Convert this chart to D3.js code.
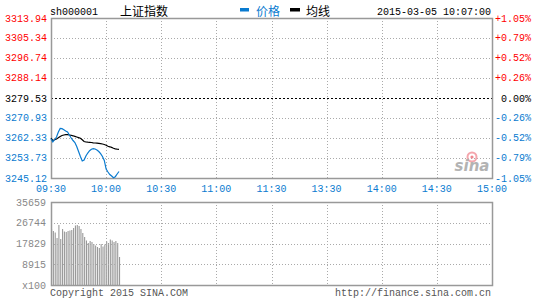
<!DOCTYPE html>
<html>
<head>
<meta charset="utf-8">
<script src="https://cdn.jsdelivr.net/npm/d3@7"></script>
<style>
  body { margin: 0; background: #fff; }
  svg { display: block; }
  text { font-family: "Liberation Mono", "DejaVu Sans Mono", monospace; font-size: 10px; }
  .cjk { font-family: "Noto Sans CJK SC", sans-serif; font-size: 12px; }
</style>
</head>
<body>
<div id="chart"></div>
<script>
// price axis ticks (left) and percent ticks (right)
const priceTicks = [3313.94, 3305.34, 3296.74, 3288.14, 3279.53, 3270.93, 3262.33, 3253.73, 3245.12];
const pctLabels = ['+1.05%', '+0.79%', '+0.52%', '+0.26%', '0.00%', '-0.26%', '-0.52%', '-0.79%', '-1.05%'];
const prevClose = 3279.53;

// time axis, minutes since 09:30 (lunch break removed)
const timeTicks = [0, 30, 60, 90, 120, 150, 180, 210, 240];
const timeLabels = ['09:30', '10:00', '10:30', '11:00', '11:30', '13:30', '14:00', '14:30', '15:00'];

// volume axis (x100)
const volTicks = [35659, 26744, 17829, 8915, 0];
const volLabels = ['35659', '26744', '17829', '8915', 'x100'];

// minute data 09:30 - 10:07
const price = [3262.02, 3260.61, 3261.68, 3262.76, 3264.91, 3266.41, 3266.33, 3265.85, 3265.34, 3264.91,
  3263.62, 3262.33, 3261.25, 3260.39, 3258.67, 3256.52, 3254.37, 3252.43, 3252.86, 3254.58,
  3255.87, 3256.86, 3257.47, 3257.72, 3257.59, 3257.16, 3256.52, 3255.57, 3254.37, 3252.65,
  3248.99, 3247.70, 3246.63, 3245.98, 3245.21, 3245.68, 3246.84, 3247.92];
const avgPrice = [3262.33, 3261.25, 3261.55, 3261.90, 3262.41, 3262.97, 3263.40, 3263.62, 3263.75, 3263.75,
  3263.62, 3263.49, 3263.27, 3263.01, 3262.76, 3262.50, 3262.20, 3261.59, 3260.82, 3260.61,
  3260.52, 3260.48, 3260.39, 3260.26, 3260.18, 3260.09, 3260.00, 3259.92, 3259.75, 3259.53,
  3259.23, 3258.76, 3258.54, 3258.28, 3257.94, 3257.68, 3257.55, 3257.47];
const volume = [24060, 23200, 22550, 20190, 25780, 19760, 24060, 22980, 22770, 23200,
  23410, 23630, 24490, 25560, 25780, 25350, 24060, 22340, 20620, 19120,
  18040, 18900, 18470, 17610, 16970, 16320, 15900, 17610, 16540, 17400,
  18690, 18040, 19550, 19120, 18470, 18900, 18040, 12030];

const W = 545, H = 300;
const left = 51, right = 492;
const pTop = 18, pBottom = 178;
const vTop = 202, vBottom = 285;

const blue = '#0a7bd0', red = '#ff0000', gridC = '#aaaaaa', borderC = '#999999';

const svg = d3.select('#chart').append('svg').attr('width', W).attr('height', H);

const x = d3.scaleLinear().domain([0, 240]).range([left, right]);
const y = d3.scaleLinear().domain([priceTicks[8], priceTicks[0]]).range([pBottom, pTop]);
const yv = d3.scaleLinear().domain([0, volTicks[0]]).range([vBottom, vTop]);

// ---- price panel grid
svg.append('g').selectAll('line')
  .data(priceTicks.filter(d => d !== prevClose))
  .enter().append('line')
  .attr('x1', left).attr('x2', right)
  .attr('y1', d => Math.round(y(d)) + 0.5).attr('y2', d => Math.round(y(d)) + 0.5)
  .attr('stroke', gridC).attr('stroke-dasharray', '1,2');

svg.append('g').selectAll('line')
  .data(timeTicks.slice(1, -1))
  .enter().append('line')
  .attr('x1', d => Math.round(x(d)) + 0.5).attr('x2', d => Math.round(x(d)) + 0.5)
  .attr('y1', pTop).attr('y2', pBottom)
  .attr('stroke', gridC).attr('stroke-dasharray', '1,2');

svg.append('line')
  .attr('x1', left).attr('x2', right)
  .attr('y1', Math.round(y(prevClose)) + 0.5).attr('y2', Math.round(y(prevClose)) + 0.5)
  .attr('stroke', '#000').attr('stroke-dasharray', '2,2');

svg.append('rect')
  .attr('x', left + 0.5).attr('y', pTop + 0.5)
  .attr('width', right - left).attr('height', pBottom - pTop)
  .attr('fill', 'none').attr('stroke', borderC).attr('stroke-width', 1.5);

// ---- sina watermark
const logo = svg.append('g').attr('transform', 'translate(472,157)');
logo.append('circle').attr('r', 4.5).attr('fill', 'none').attr('stroke', '#f4a6ad').attr('stroke-width', 2);
logo.append('circle').attr('r', 1.6).attr('fill', '#f08890');
logo.append('text').attr('x', 0).attr('y', 14)
  .attr('text-anchor', 'middle')
  .style('font-family', '"DejaVu Sans", sans-serif')
  .style('font-size', '15px').style('font-weight', 'bold').style('font-style', 'italic')
  .attr('fill', '#b3b3b3').text('sina');

// ---- price lines
const line = d3.line().x((d, i) => x(i)).y(d => y(d));
svg.append('path').datum(avgPrice).attr('d', line)
  .attr('fill', 'none').attr('stroke', '#000').attr('stroke-width', 1.2);
svg.append('path').datum(price).attr('d', line)
  .attr('fill', 'none').attr('stroke', blue).attr('stroke-width', 1.2);

// ---- price labels
svg.append('g').selectAll('text')
  .data(priceTicks)
  .enter().append('text')
  .attr('x', 47).attr('y', d => y(d) + 3.5)
  .attr('text-anchor', 'end')
  .attr('fill', d => d > prevClose ? red : (d < prevClose ? blue : '#000'))
  .text(d => d.toFixed(2));

svg.append('g').selectAll('text')
  .data(pctLabels)
  .enter().append('text')
  .attr('x', 531).attr('y', (d, i) => y(priceTicks[i]) + 3.5)
  .attr('text-anchor', 'end')
  .attr('fill', (d, i) => i < 4 ? red : (i > 4 ? blue : '#000'))
  .text(d => d);

// ---- time labels
svg.append('g').selectAll('text')
  .data(timeTicks)
  .enter().append('text')
  .attr('x', d => x(d)).attr('y', 192)
  .attr('text-anchor', 'middle')
  .attr('fill', blue)
  .text((d, i) => timeLabels[i]);

// ---- header
svg.append('text').attr('x', 50).attr('y', 15).attr('fill', '#000').text('sh000001');
svg.append('text').attr('class', 'cjk').attr('x', 120).attr('y', 16).attr('fill', '#000').text('上证指数');
svg.append('rect').attr('x', 240).attr('y', 8).attr('width', 9).attr('height', 3.5).attr('fill', blue);
svg.append('text').attr('class', 'cjk').attr('x', 256).attr('y', 16).attr('fill', blue).text('价格');
svg.append('rect').attr('x', 290).attr('y', 8).attr('width', 10).attr('height', 3.5).attr('fill', '#000');
svg.append('text').attr('class', 'cjk').attr('x', 306).attr('y', 16).attr('fill', '#000').text('均线');
svg.append('text').attr('x', 491).attr('y', 15).attr('text-anchor', 'end').attr('fill', '#000').text('2015-03-05 10:07:00');

// ---- volume panel
svg.append('g').selectAll('rect')
  .data(volume)
  .enter().append('rect')
  .attr('x', (d, i) => x(i))
  .attr('y', d => yv(d))
  .attr('width', 1.1)
  .attr('height', d => vBottom - yv(d))
  .attr('fill', '#999999');

svg.append('g').selectAll('line')
  .data(volTicks.slice(1, -1))
  .enter().append('line')
  .attr('x1', left).attr('x2', right)
  .attr('y1', d => Math.round(yv(d)) + 0.5).attr('y2', d => Math.round(yv(d)) + 0.5)
  .attr('stroke', gridC).attr('stroke-dasharray', '1,2');

svg.append('g').selectAll('line')
  .data(timeTicks.slice(1, -1))
  .enter().append('line')
  .attr('x1', d => Math.round(x(d)) + 0.5).attr('x2', d => Math.round(x(d)) + 0.5)
  .attr('y1', vTop).attr('y2', vBottom)
  .attr('stroke', gridC).attr('stroke-dasharray', '1,2');

svg.append('rect')
  .attr('x', left + 0.5).attr('y', vTop + 0.5)
  .attr('width', right - left).attr('height', vBottom - vTop)
  .attr('fill', 'none').attr('stroke', borderC).attr('stroke-width', 1.5);

svg.append('g').selectAll('text')
  .data(volTicks)
  .enter().append('text')
  .attr('x', 46).attr('y', d => yv(d) + 3.5)
  .attr('text-anchor', 'end')
  .attr('fill', '#888888')
  .text((d, i) => volLabels[i]);

// ---- footer
svg.append('text').attr('x', 50).attr('y', 296).attr('fill', '#555').text('Copyright 2015 SINA.COM');
svg.append('text').attr('x', 491).attr('y', 296).attr('text-anchor', 'end').attr('fill', '#555').text('http://finance.sina.com.cn');
</script>
</body>
</html>
